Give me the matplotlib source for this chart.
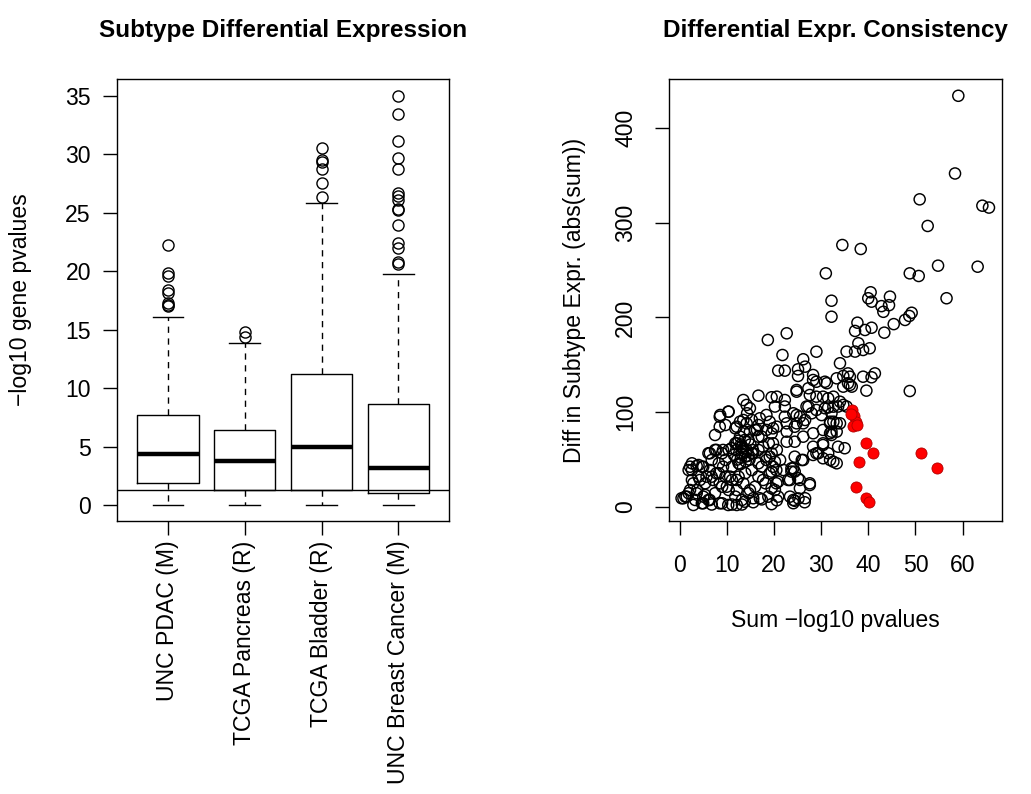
import matplotlib.pyplot as plt
import numpy as np

plt.rcParams['font.family'] = ['Liberation Sans', 'DejaVu Sans']

# boxplot summary stats (-log10 gene pvalues)
box_labels = ["UNC PDAC (M)", "TCGA Pancreas (R)", "TCGA Bladder (R)", "UNC Breast Cancer (M)"]
box_q1 = [1.91, 1.30, 1.30, 1.05]
box_med = [4.39, 3.79, 4.99, 3.19]
box_q3 = [7.70, 6.42, 11.18, 8.67]
box_whislo = [0.0, 0.0, 0.0, 0.0]
box_whishi = [16.08, 13.83, 25.86, 19.76]
box_fliers = [
    [22.2, 19.8, 19.6, 18.4, 18.1, 17.3, 17.1, 17.0],
    [14.8, 14.4],
    [30.5, 29.5, 29.3, 28.7, 27.5, 26.3],
    [35.0, 33.4, 31.1, 29.65, 28.7, 26.66, 26.4, 26.1, 25.3, 25.2,
     23.95, 22.4, 22.0, 20.8, 20.6],
]
sig_line = 1.30  # -log10(0.05)

# scatter: sum of -log10 pvalues vs diff in subtype expression
sum_x = [
    59.1, 58.4, 50.9, 64.2, 65.6, 52.6, 34.5, 38.4, 54.8, 63.2, 48.8, 50.7, 56.6,
    40.5, 40.0, 40.7, 44.6, 44.4, 42.8, 43.2, 49.2, 48.7, 47.8, 45.4, 43.4,
    37.7, 37.2, 39.3, 40.7, 37.9, 37.2, 38.9, 40.3, 41.4, 40.7, 39.6, 48.8, 36.1, 36.1,
    31.0, 32.2, 32.2, 18.7, 22.7, 21.8, 29.0, 20.9, 22.3,
    26.2, 26.6, 25.1, 25.1, 28.3, 29.0, 34.0, 35.4,
    31.2, 33.3, 34.7, 35.7, 35.7, 34.7, 36.5, 38.9, 30.8, 28.3, 27.3, 24.8,
    16.7, 19.5, 20.6, 22.3, 13.5, 14.2, 14.9,
    24.8, 27.6, 29.0, 30.4, 31.5, 32.6, 34.0,
    27.3, 29.0, 30.8, 32.6, 34.7, 32.6, 31.9, 33.3,
    24.1, 25.5, 26.6, 24.8, 22.3, 22.7, 18.4, 19.1, 17.0, 16.7, 16.0, 18.4, 19.8,
    8.5, 10.3, 7.5, 8.5, 9.7, 12.8, 13.6, 11.8,
    12.1, 13.5, 14.2, 14.9, 12.8, 13.8, 12.1, 13.1, 14.2, 15.6, 16.7, 17.7, 19.1, 20.6,
    22.7, 24.4, 26.2, 28.3, 30.4, 31.9, 33.3,
    28.3, 30.4, 33.6, 35.0, 31.5, 29.0, 30.4, 32.6,
    24.4, 25.9, 24.1, 23.7, 23.0, 25.1, 27.6, 26.6, 24.4, 20.5, 20.2, 18.8, 17.0,
    21.3, 19.8, 18.4, 17.4, 19.1, 17.7, 20.5,
    20.2, 22.3, 26.9, 31.5, 33.6, 35.4, 24.8, 28.0, 30.1, 32.2,
    20.6, 24.4, 26.2, 31.9, 34.0, 32.2, 32.2, 22.7, 19.5, 19.8,
    30.4, 29.4, 28.3, 31.9, 33.3, 26.2, 19.5, 20.2, 22.0, 19.5, 20.9, 19.5,
    23.7, 24.4, 23.4, 25.5, 27.6, 25.5, 23.4, 24.1, 20.9,
    0.4, 2.2, 3.6, 6.4, 7.8, 9.2, 5.0, 6.4, 7.8, 9.2, 10.7, 12.1, 13.5, 14.9, 12.1,
    10.0, 8.5, 7.1, 5.7, 4.3, 2.9, 2.2, 3.6, 5.0, 6.4, 8.5, 10.3, 12.1, 13.8, 15.6,
    5.0, 2.9, 1.5, 15.6, 17.4, 19.5, 20.6, 24.1, 25.2, 26.5,
    12.5, 13.0, 13.5, 14.0, 14.5, 12.0, 13.0, 14.0, 15.0, 11.5, 11.0, 12.8, 14.8,
    15.5, 13.2, 12.2, 8.6, 2.6, 4.0, 1.9, 2.6, 1.2, 3.7, 5.4,
    10.4, 14.3, 15.3, 16.4, 17.4, 18.9, 14.6, 13.2, 11.8, 10.4, 9.0, 7.5, 6.1, 6.8,
    8.3, 9.7, 11.1, 12.5, 13.9, 15.3, 16.7, 18.2, 16.7, 15.3, 13.9, 12.5, 11.1, 9.7,
    8.3, 6.8, 5.4, 4.0, 2.6, 4.7, 16.7, 18.2, 16.0, 14.6, 13.2, 11.8, 10.4, 9.0,
    7.5, 6.1, 4.7, 3.3, 1.9, 0.8, 6.8, 9.0, 11.1, 13.2,
]
diff_y = [
    434, 352, 324.7, 318, 316, 296.6, 276.5, 272.3, 254.7, 253.6, 246.6, 243.8, 220.3,
    226.6, 220.3, 216.7, 222, 213, 212, 206, 205, 201.6, 197.4, 193, 184,
    194.5, 185.8, 186.8, 189.2, 172.8, 164, 165.7, 167.5, 141, 136.9, 122.8, 122.4, 137.5, 128.8,
    246.6, 217.7, 200.8, 176.3, 183.3, 160.4, 163.9, 143.9, 143.9,
    155.9, 148.1, 145.3, 138.3, 139.3, 132.2, 151.7, 164,
    130.6, 135.8, 138.3, 141, 130.6, 127, 127, 137.5, 132.2, 134, 125.3, 123.5,
    117.5, 115.8, 116.4, 112.9, 112.9, 107.7, 104.2,
    121.7, 118.2, 116.4, 116.4, 114.7, 116.4, 111.1,
    105.9, 102.4, 104.2, 105.9, 107.7, 90, 88.3, 88.3,
    98.9, 95.3, 91.8, 88.3, 95.3, 88.3, 97.1, 90, 93.6, 86.5, 81.3, 81.3, 83,
    95.3, 100.6, 76, 84.7, 86.5, 90, 79.5, 83,
    84.7, 91.8, 88.3, 79.5, 74.2, 70.7, 67.2, 63.6, 60.2, 56.7, 74.2, 63.6, 53.1, 60.2,
    79.5, 68.9, 74.2, 77.8, 81.3, 77.8, 79.5,
    63.6, 67.2, 63.6, 62, 56.7, 56.7, 51.4, 47.8,
    53.1, 49.6, 40.8, 37.3, 28.5, 30.3, 25, 9.2, 6.6, 25, 17.9, 10.9, 9.2,
    49.6, 42.5, 49.6, 42.5, 35.6, 28.5, 39,
    106, 106, 106, 105, 106, 106, 97, 98.9, 97, 98.9,
    84.7, 84.7, 88.3, 90, 88.3, 79.5, 76, 68.9, 77.8, 67.2,
    65.4, 56.7, 54.9, 49.6, 46.1, 49.6, 56.7, 47.8, 39, 37.3, 26.7, 19.7,
    40.8, 37.3, 28.5, 28.5, 23.2, 19.7, 10.9, 7.4, 10.9,
    9.2, 42.5, 43.3, 56.7, 60.2, 60.2, 42.5, 39, 35.6, 42.5, 32, 28.5, 25, 17.9, 17.9,
    21.4, 25, 28.5, 32, 28.5, 25, 17.9, 14.5, 10.9, 7.4, 3.9, 2.1, 2.1, 5.6, 9.2,
    3.9, 2.1, 10.9, 5, 8, 3, 7, 4, 9, 5,
    70, 66, 62, 58, 54, 60, 52, 48, 66, 55, 62, 45, 50,
    60, 56, 50, 97.1, 46.1, 44.3, 39, 28.5, 10.9, 17.9, 12.7,
    100.6, 98.9, 91.8, 81.3, 74.2, 67.2, 70.7, 63.6, 67.2, 60.2, 56.7, 60.2, 56.7, 49.6,
    46.1, 49.6, 42.5, 46.1, 53.1, 56.7, 60.2, 53.1, 46.1, 39, 35.6, 32, 28.5, 32,
    35.6, 32, 25, 32, 39, 42.5, 32, 25, 21.4, 14.5, 7.4, 10.9, 17.9, 21.4,
    14.5, 7.4, 3.9, 7.4, 14.5, 9.2, 2.6, 3.9, 2.6, 2.6,
]
red_x = [36.6, 37.0, 37.3, 36.8, 37.6, 36.3, 39.5, 41.0, 38.1, 51.2, 54.6, 37.4, 39.5, 40.2]
red_y = [102, 96, 90, 85, 87, 98, 68, 57, 48, 57, 41.5, 21.4, 9, 5.6]

W, H = 1031, 794
fig = plt.figure(figsize=(W / 100, H / 100), dpi=100)

def frac(x0, y0, x1, y1):
    return [x0 / W, 1 - y1 / H, (x1 - x0) / W, (y1 - y0) / H]

txt = 16.6
ax1 = fig.add_axes(frac(117.3, 79.3, 449, 521.4))
ax2 = fig.add_axes(frac(669.3, 79.3, 1001.7, 521))

# ---- left: boxplot
stats = []
for i in range(len(box_labels)):
    stats.append(dict(med=box_med[i], q1=box_q1[i], q3=box_q3[i],
                      whislo=box_whislo[i], whishi=box_whishi[i],
                      fliers=box_fliers[i]))
ax1.bxp(stats, positions=[1, 2, 3, 4], widths=0.8, capwidths=0.4,
        boxprops=dict(color='black', lw=1.0),
        medianprops=dict(color='black', lw=3.2, solid_capstyle='butt'),
        whiskerprops=dict(color='black', lw=1.0, linestyle=(0, (4.5, 4))),
        capprops=dict(color='black', lw=1.0),
        flierprops=dict(marker='o', markerfacecolor='none', markeredgecolor='black',
                        markersize=8, markeredgewidth=1.0))
ax1.axhline(sig_line, color='black', lw=1.0)
ax1.set_xlim(0.34, 4.66)
ax1.set_ylim(-1.4, 36.4)
ax1.set_yticks(np.arange(0, 36, 5))
ax1.set_xticks([1, 2, 3, 4])
ax1.set_xticklabels(box_labels, rotation=90, ha='center', va='top')
ax1.tick_params(axis='y', length=10, width=1.0, labelsize=txt, pad=9)
ax1.tick_params(axis='x', length=10, width=1.0, labelsize=txt, pad=4)

# ---- right: scatter
ax2.scatter(sum_x, diff_y, s=64, facecolors='none', edgecolors='black', linewidths=1.05)
ax2.scatter(red_x, red_y, s=64, facecolors='red', edgecolors='#b00000', linewidths=0.6)
ax2.set_xlim(-2.2, 68.3)
ax2.set_ylim(-14.8, 451.4)
ax2.set_xticks(np.arange(0, 61, 10))
ax2.set_yticks(np.arange(0, 401, 100))
ax2.tick_params(axis='y', length=10, width=1.0, labelsize=txt, pad=13)
ax2.tick_params(axis='x', length=10, width=1.0, labelsize=txt, pad=14)
for lab in ax2.get_yticklabels():
    lab.set_rotation(90)
    lab.set_va('center')

for ax in (ax1, ax2):
    for sp in ax.spines.values():
        sp.set_linewidth(1.0)

# titles and axis labels
fig.text(283 / W, 1 - 30 / H, "Subtype Differential Expression", ha='center', va='center',
         fontsize=17.5, fontweight='bold')
fig.text(835.5 / W, 1 - 30 / H, "Differential Expr. Consistency", ha='center', va='center',
         fontsize=17.5, fontweight='bold')
fig.text(21 / W, 1 - 300 / H, "\u2212log10 gene pvalues", rotation=90, ha='center',
         va='center', fontsize=txt)
fig.text(575 / W, 1 - 300 / H, "Diff in Subtype Expr. (abs(sum))", rotation=90, ha='center',
         va='center', fontsize=txt)
fig.text(835.5 / W, 1 - 620 / H, "Sum \u2212log10 pvalues", ha='center', va='center',
         fontsize=txt)

fig.savefig("out.png", dpi=100)
